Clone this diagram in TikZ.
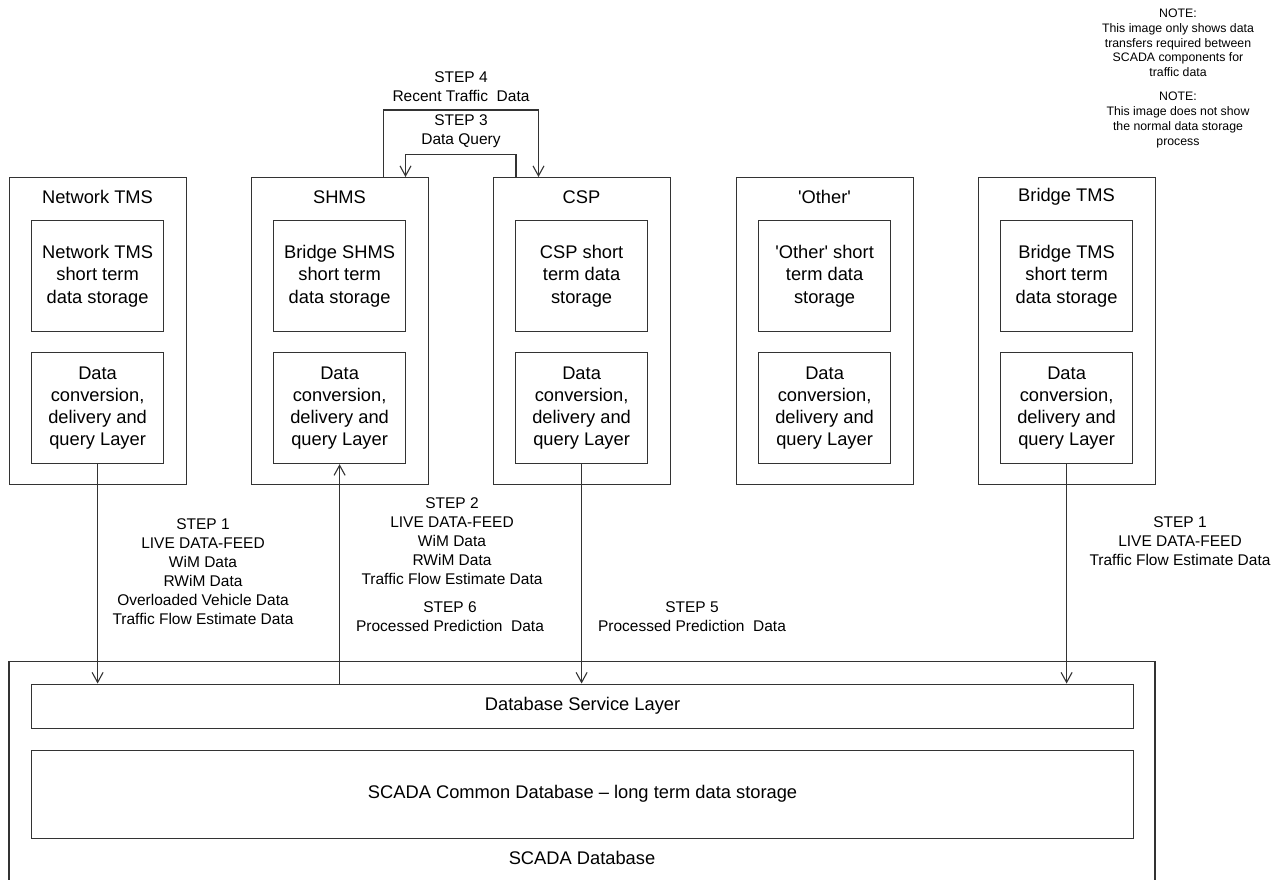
\documentclass[tikz,border=0pt]{standalone}
\usepackage{fontspec}
\setmainfont{Liberation Sans}
\usetikzlibrary{arrows.meta}

\newcommand{\boxfont}{\fontsize{18.3}{22.3}\selectfont}
\newcommand{\stepfont}{\fontsize{15.5}{19}\selectfont}
\newcommand{\notefont}{\fontsize{12.3}{14.7}\selectfont}
\newcommand{\sq}{\textquotesingle}

\begin{document}
\begin{tikzpicture}[x=1pt,y=-1pt,
  ln/.style={draw=black!80, line width=1.2pt},
  arr/.style={ln, -{Straight Barb[length=10pt,width=11pt,line width=1.1pt]}},
  outerbox/.style={ln, minimum width=177pt, minimum height=307pt, anchor=north west, inner sep=0pt},
  innerbox/.style={ln, minimum width=132pt, minimum height=111pt, anchor=north west, inner sep=0pt, align=center, font=\boxfont},
  title/.style={font=\boxfont, inner sep=0pt},
  steplabel/.style={font=\stepfont, align=center, inner sep=0pt},
  notelabel/.style={font=\notefont, align=center, inner sep=0pt}
]
\useasboundingbox (0,0) rectangle (1278,879);

% component columns: outer frame, title, storage box, query layer box
\foreach \nm/\x/\ttl/\store in {
    ntms/9/Network TMS/{Network TMS\\short term\\data storage},
    shms/251/SHMS/{Bridge SHMS\\short term\\data storage},
    csp/493/CSP/{CSP short\\term data\\storage},
    oth/736/\sq Other\sq/{\sq Other\sq{} short\\term data\\storage},
    btms/978/Bridge TMS/{Bridge TMS\\short term\\data storage}} {
  \node[outerbox] (\nm) at (\x,177) {};
  \node[title] (\nm-t) at (\x+88.5,197) {\ttl};
  \node[innerbox] (\nm-s) at (\x+22,220) {\store};
  \node[innerbox] (\nm-q) at (\x+22,352) {Data\\conversion,\\delivery and\\query Layer};
}

% SCADA database frame (open at the bottom edge)
\coordinate (dbl) at (9,880);
\coordinate (dbr) at (1155,880);
\draw[ln] (dbl) -- (9,661.5) -- (1155,661.5) -- (dbr);
\node[ln, minimum width=1102pt, minimum height=44pt, anchor=north west, inner sep=0pt, font=\boxfont] (dsl) at (31,683.5) {Database Service Layer};
\node[ln, minimum width=1102pt, minimum height=88pt, anchor=north west, inner sep=0pt, font=\boxfont] (cdb) at (31,749.5) {SCADA Common Database -- long term data storage};
\node[title] (db-t) at (582,858) {SCADA Database};

% live feeds and processed data between components and the database
\draw[arr] (ntms-q.south) -- (ntms-q.south |- dsl.north);
\draw[arr] (shms-q.south |- dsl.north) -- (shms-q.south);
\draw[arr] (csp-q.south) -- (csp-q.south |- dsl.north);
\draw[arr] (btms-q.south) -- (btms-q.south |- dsl.north);

% query / reply loop between SHMS and CSP
\coordinate (s4l) at (383.5,110);
\coordinate (s4r) at (538.5,110);
\coordinate (s3r) at (516,154.5);
\coordinate (s3l) at (405.5,154.5);
\draw[arr] (shms.north -| s4l) -- (s4l) -- (s4r) -- (csp.north -| s4r);
\draw[arr] (csp.north -| s3r) -- (s3r) -- (s3l) -- (shms.north -| s3l);

% step labels
\node[steplabel] (l4) at (461,86.5) {STEP 4\\Recent Traffic~ Data};
\node[steplabel] (l3) at (461,131) {STEP 3\\Data Query};
\node[steplabel] (l1a) at (203,571.5) {STEP 1\\LIVE DATA-FEED\\WiM Data\\RWiM Data\\Overloaded Vehicle Data\\Traffic Flow Estimate Data};
\node[steplabel] (l2) at (452,541) {STEP 2\\LIVE DATA-FEED\\WiM Data\\RWiM Data\\Traffic Flow Estimate Data};
\node[steplabel] (l6) at (450,616.5) {STEP 6\\Processed Prediction~ Data};
\node[steplabel] (l5) at (692,616.5) {STEP 5\\Processed Prediction~ Data};
\node[steplabel] (l1b) at (1180,541) {STEP 1\\LIVE DATA-FEED\\Traffic Flow Estimate Data};

% notes
\node[notelabel] (n1) at (1178,43) {NOTE:\\This image only shows data\\transfers required between\\SCADA components for\\traffic data};
\node[notelabel] (n2) at (1178,120) {NOTE:\\This image does not show\\the normal data storage\\process};
\end{tikzpicture}
\end{document}
